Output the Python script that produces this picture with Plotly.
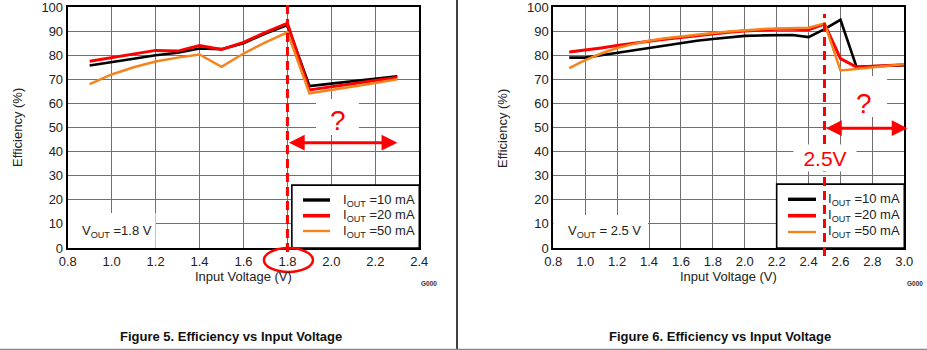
import plotly.graph_objects as go

# ---------------- data ----------------
vin_left = [0.9, 1.0, 1.1, 1.2, 1.3, 1.4, 1.5, 1.6, 1.7, 1.8, 1.9, 2.0, 2.1, 2.2, 2.3]
eff10_left = [75.7, 77.0, 78.5, 80.0, 81.0, 82.8, 82.5, 85.0, 89.0, 92.5, 67.2, 68.2, 69.3, 70.5, 71.3]
eff20_left = [77.5, 79.0, 80.8, 82.0, 81.7, 84.0, 82.4, 85.3, 89.5, 93.3, 65.6, 66.8, 68.1, 69.5, 70.8]
eff50_left = [68.0, 72.0, 75.0, 77.4, 79.0, 80.3, 75.2, 80.7, 85.3, 89.5, 64.2, 65.5, 67.0, 68.5, 70.0]

vin_right = [0.9, 1.0, 1.1, 1.2, 1.3, 1.4, 1.5, 1.6, 1.7, 1.8, 1.9, 2.0, 2.1, 2.2, 2.3, 2.4,
             2.5, 2.6, 2.7, 2.8, 2.9, 3.0]
eff10_right = [79.0, 79.0, 80.0, 81.0, 82.0, 83.0, 84.1, 85.2, 86.0, 86.7, 87.4, 88.0, 88.2, 88.4,
               88.4, 87.5, 90.8, 94.7, 75.2, 75.4, 75.6, 75.8]
eff20_right = [81.3, 82.0, 83.0, 84.0, 85.0, 85.8, 86.6, 87.4, 88.2, 89.0, 89.5, 90.0, 90.4, 90.8,
               90.8, 90.6, 92.9, 78.6, 75.1, 75.4, 75.7, 76.0]
eff50_right = [74.6, 78.0, 80.7, 83.0, 84.6, 86.0, 87.0, 87.8, 88.5, 89.2, 89.8, 90.4, 90.8, 91.1,
               91.2, 91.4, 93.2, 73.7, 74.3, 74.9, 75.6, 76.3]

series_names = ["I<sub>OUT</sub> =10 mA", "I<sub>OUT</sub> =20 mA", "I<sub>OUT</sub> =50 mA"]
series_colors = ["#000000", "#ff0000", "#f5841f"]
series_widths = [2.6, 3.0, 2.5]
legend_widths = [3.4, 3.6, 2.4]

xticks_left = [0.8, 1.0, 1.2, 1.4, 1.6, 1.8, 2.0, 2.2, 2.4]
xticks_right = [0.8, 1.0, 1.2, 1.4, 1.6, 1.8, 2.0, 2.2, 2.4, 2.6, 2.8, 3.0]
yticks = [0, 10, 20, 30, 40, 50, 60, 70, 80, 90, 100]

vout_left = 1.8
vout_right = 2.5

W, H = 927, 350
FONT = "Liberation Sans, Arial, sans-serif"
TXT = "#222222"
RED = "#ff0000"


def px(x):
    return x / W


def py(y):
    return 1 - y / H


fig = go.Figure()

for xs, ys_list, xa, ya in [
    (vin_left, [eff10_left, eff20_left, eff50_left], "x", "y"),
    (vin_right, [eff10_right, eff20_right, eff50_right], "x2", "y2"),
]:
    for ys, name, col, w in zip(ys_list, series_names, series_colors, series_widths):
        fig.add_trace(go.Scatter(x=xs, y=ys, mode="lines", name=name, showlegend=False,
                                 line=dict(color=col, width=w), xaxis=xa, yaxis=ya,
                                 hoverinfo="skip"))

axis_common = dict(showgrid=True, gridcolor="#707070", gridwidth=1.2, zeroline=False,
                   showline=True, linecolor="#000000", linewidth=2, mirror=True, ticks="",
                   automargin=False, ticklabeloverflow="allow",
                   tickfont=dict(family=FONT, size=13, color=TXT), fixedrange=True)
ydom = [py(248), py(7)]

fig.update_layout(
    template="none",
    width=W, height=H, margin=dict(l=0, r=0, t=0, b=0, pad=0),
    paper_bgcolor="white", plot_bgcolor="white", showlegend=False,
    xaxis=dict(axis_common, domain=[px(67.7), px(419.3)], range=[0.8, 2.4],
               tickvals=xticks_left, ticktext=[f"{v:.1f}" for v in xticks_left], anchor="y"),
    yaxis=dict(axis_common, domain=ydom, range=[0, 100], tickvals=yticks, anchor="x"),
    xaxis2=dict(axis_common, domain=[px(553.3), px(904.3)], range=[0.8, 3.0],
                tickvals=xticks_right, ticktext=[f"{v:.1f}" for v in xticks_right], anchor="y2"),
    yaxis2=dict(axis_common, domain=ydom, range=[0, 100], tickvals=yticks, anchor="x2"),
)

shapes = []
# white boxes over gridlines
for xr, yr, x0, x1, y0, y1 in [
    ("x", "y", 1.93, 2.125, 46.9, 61.8),
    ("x2", "y2", 2.604, 2.892, 54.4, 71.4),
    ("x", "y", 0.8, 1.2, 0, 14.5),
    ("x2", "y2", 0.8, 1.394, 0, 13.7),
]:
    shapes.append(dict(type="rect", xref=xr, yref=yr, x0=x0, x1=x1, y0=y0, y1=y1,
                       fillcolor="white", line=dict(width=0), layer="between"))
# legend boxes
for xr, yr, x0, x1, y1 in [("x", "y", 1.82, 2.4, 26.1), ("x2", "y2", 2.20, 3.0, 26.5)]:
    shapes.append(dict(type="rect", xref=xr, yref=yr, x0=x0, x1=x1, y0=0, y1=y1,
                       fillcolor="white", line=dict(width=1.6, color="#000000"), layer="between"))
# legend samples
for lx0, lx1, ys in [(303, 330, [200, 215.7, 231]), (788, 816, [199.3, 215.7, 232])]:
    for yy, col, w in zip(ys, series_colors, legend_widths):
        shapes.append(dict(type="line", xref="paper", yref="paper", x0=px(lx0), x1=px(lx1),
                           y0=py(yy), y1=py(yy), line=dict(color=col, width=w), layer="above"))
# red dashed markers
shapes.append(dict(type="line", xref="x", yref="paper", x0=vout_left, x1=vout_left,
                   y0=py(252), y1=1.0, line=dict(color=RED, width=3, dash="9px,5px"), layer="above"))
shapes.append(dict(type="line", xref="x2", yref="paper", x0=vout_right, x1=vout_right,
                   y0=py(256), y1=py(14), line=dict(color=RED, width=3, dash="9px,5px"), layer="above"))
# ellipse around 1.8 tick
shapes.append(dict(type="circle", xref="x", yref="paper", x0=1.693, x1=1.916,
                   y0=py(272), y1=py(248), line=dict(color=RED, width=2.5), layer="above"))
# separators
shapes.append(dict(type="line", xref="paper", yref="paper", x0=px(457), x1=px(457), y0=0, y1=1,
                   line=dict(color="#000000", width=1.5)))
shapes.append(dict(type="line", xref="paper", yref="paper", x0=0, x1=1, y0=py(349.3), y1=py(349.3),
                   line=dict(color="#888888", width=1.2)))
fig.update_layout(shapes=shapes)

ann = []
# double arrows
ann.append(dict(xref="x", yref="y", axref="x", ayref="y", x=2.3, y=43.7, ax=1.8, ay=43.7,
                text="", showarrow=True, arrowhead=2, arrowside="end+start", arrowsize=1.05,
                arrowwidth=3, arrowcolor=RED, standoff=0, startstandoff=0))
ann.append(dict(xref="x2", yref="y2", axref="x2", ayref="y2", x=3.02, y=49.7, ax=2.5, ay=49.7,
                text="", showarrow=True, arrowhead=2, arrowside="end+start", arrowsize=1.05,
                arrowwidth=3, arrowcolor=RED, standoff=0, startstandoff=0))
# question marks
ann.append(dict(xref="x", yref="y", x=2.03, y=52.7, text="?", showarrow=False, xanchor="center",
                font=dict(family=FONT, size=28, color=RED)))
ann.append(dict(xref="x2", yref="y2", x=2.748, y=59.8, text="?", showarrow=False, xanchor="center",
                font=dict(family=FONT, size=28, color=RED)))
# 2.5V label
ann.append(dict(xref="x2", yref="y2", x=vout_right, y=37.3, text="2.5V", showarrow=False,
                xanchor="center", font=dict(family=FONT, size=21, color=RED), bgcolor="white",
                width=60, height=24))
# VOUT labels
ann.append(dict(xref="x", yref="y", x=0.856, y=7.0, xanchor="left", text="V<sub>OUT</sub> =1.8 V",
                showarrow=False, font=dict(family=FONT, size=13, color=TXT)))
ann.append(dict(xref="x2", yref="y2", x=0.88, y=7.0, xanchor="left", text="V<sub>OUT</sub> = 2.5 V",
                showarrow=False, font=dict(family=FONT, size=13, color=TXT)))
# legend texts
for tx, ys in [(341, [200, 215.7, 231]), (826, [199.3, 215.7, 232])]:
    for yy, name in zip(ys, series_names):
        ann.append(dict(xref="paper", yref="paper", x=px(tx), y=py(yy), xanchor="left",
                        yanchor="middle", text=name, showarrow=False,
                        font=dict(family=FONT, size=13, color=TXT)))
# axis titles
for cx in [243.5, 728.5]:
    ann.append(dict(xref="paper", yref="paper", x=px(cx), y=py(276), xanchor="center",
                    yanchor="middle", text="Input Voltage (V)", showarrow=False,
                    font=dict(family=FONT, size=13, color=TXT)))
for cx in [18, 503]:
    ann.append(dict(xref="paper", yref="paper", x=px(cx), y=py(128), xanchor="center",
                    yanchor="middle", text="Efficiency (%)", textangle=-90, showarrow=False,
                    font=dict(family=FONT, size=13, color=TXT)))
# G000 marks
for gx in [429, 914.5]:
    ann.append(dict(xref="paper", yref="paper", x=px(gx), y=py(283.5), text="<b>G000</b>",
                    xanchor="center", yanchor="middle", showarrow=False,
                    font=dict(family=FONT, size=6.5, color="#333333")))
# captions
for cx, cap in [(231, "Figure 5. Efficiency vs Input Voltage"), (720, "Figure 6. Efficiency vs Input Voltage")]:
    ann.append(dict(xref="paper", yref="paper", x=px(cx), y=py(336), text=f"<b>{cap}</b>",
                    xanchor="center", yanchor="middle", showarrow=False,
                    font=dict(family=FONT, size=13, color="#111111")))
fig.update_layout(annotations=ann)

fig.write_html("out.html", config={"displayModeBar": False})
